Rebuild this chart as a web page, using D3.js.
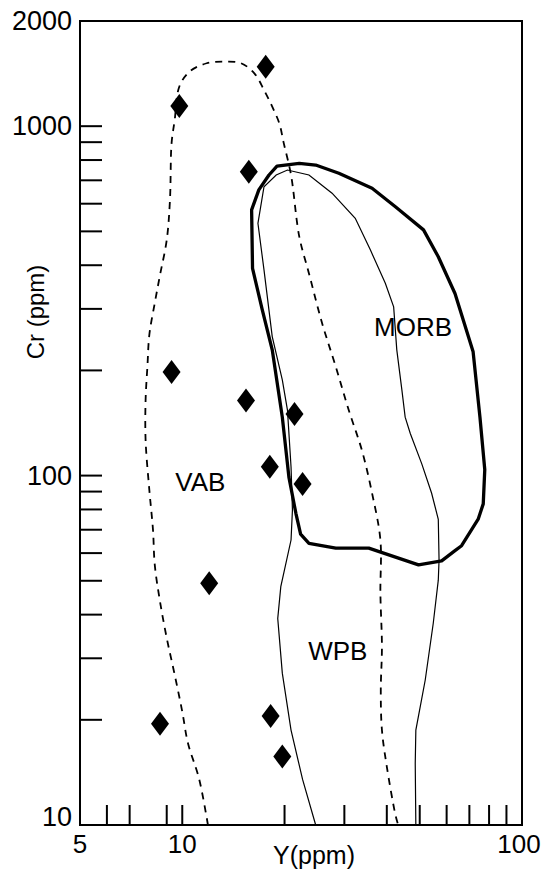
<!DOCTYPE html>
<html>
<head>
<meta charset="utf-8">
<script src="https://cdn.jsdelivr.net/npm/d3@7"></script>
<style>
  body { margin: 0; background: #fff; }
  svg text { font-family: "Liberation Sans", Arial, sans-serif; fill: #000; }
</style>
</head>
<body>
<div id="chart"></div>
<script>
// samples: Y (ppm), Cr (ppm)
var samplesY  = [17.6, 9.8, 15.7, 9.3, 15.4, 21.4, 18.1, 22.6, 12.0, 8.6, 18.2, 19.7];
var samplesCr = [1480, 1142, 741, 198, 164, 150, 106, 94.6, 49.2, 19.5, 20.5, 15.7];

// field boundaries [Y, Cr]
var morbField = [[19.0,769],[22.1,783],[24.7,774],[28.9,733],[36.2,664],[42.4,588],[51.3,505],[56.7,423],
  [63.5,332],[71.8,226],[75.2,147],[77.7,104],[76.9,83],[74.3,75],[66.4,63],[63.5,61],[58.0,57],[49.6,55.5],
  [35.4,62],[28.3,62],[23.6,64],[22.3,68],[21.6,78],[20.6,99],[19.7,147],[18.4,229],[17.2,298],[16.1,392],
  [16.0,576],[16.8,657],[18.0,725]];

var wpbField = [[24.7,10],[22.6,13.5],[20.9,18.7],[19.7,27.2],[19.1,39.0],[19.5,48.1],[20.9,65.4],[21.1,79.7],
  [20.9,106],[20.4,154],[19.7,188],[18.4,250],[17.4,388],[16.7,527],[17.4,671],[18.9,725],[20.4,749],
  [23.6,725],[27.6,643],[32.3,545],[35.8,442],[39.6,355],[41.9,304],[42.8,229],[44.3,176],[45.3,147],
  [46.9,132],[50.7,108],[54.2,89],[56.7,75],[57.0,57.3],[56.7,50.2],[54.8,37.8],[51.9,26.0],[48.7,18.7],
  [48.5,15.0],[48.7,10]];

var vabField = [[11.9,10],[11.2,13.6],[10.4,17.1],[10.0,21.1],[9.5,26.9],[9.0,34.3],[8.6,43.6],[8.3,55.5],
  [8.2,69.9],[8.0,90.9],[7.8,126],[7.8,165],[7.9,207],[8.0,253],[8.3,312],[8.6,375],[9.0,472],[9.2,615],
  [9.3,893],[9.5,1042],[9.8,1297],[10.5,1432],[11.8,1514],[13.3,1530],[14.9,1514],[16.3,1417],[17.4,1269],
  [18.4,1137],[19.3,1019],[19.9,893],[20.9,725],[22.1,483],[23.6,379],[25.8,273],[28.3,205],[30.9,154],
  [33.8,118],[36.2,89],[38.3,65.4],[38.3,46.0],[38.7,32.4],[38.4,24.3],[38.7,18.7],[40.0,14.7],[42.4,10.7],
  [43.2,10]];

var fieldNames = ["MORB", "VAB", "WPB"];
var fieldLabelAt = [[47.8, 266], [11.3, 96], [28.7, 31.5]];

var xTicks = [6, 7, 9, 10, 20, 30, 40, 50, 60, 70, 80, 90];
var xTickLabels = [5, 10, 100];
var yTicks = [20, 30, 40, 50, 60, 70, 80, 90, 100, 200, 300, 400, 500, 600, 700, 800, 900, 1000];
var yTickLabels = [10, 100, 1000, 2000];

var W = 543, H = 871;
var svg = d3.select("#chart").append("svg").attr("width", W).attr("height", H);

var x = d3.scaleLog().domain([5, 100]).range([80, 522]);
var y = d3.scaleLog().domain([10, 2000]).range([825, 21]);

var line = d3.line().x(function(d){ return x(d[0]); }).y(function(d){ return y(d[1]); });
var smooth = d3.line().x(function(d){ return x(d[0]); }).y(function(d){ return y(d[1]); })
  .curve(d3.curveCatmullRom.alpha(0.5));

// fields
svg.append("path").attr("d", smooth(vabField))
  .attr("fill", "none").attr("stroke", "#000").attr("stroke-width", 1.8)
  .attr("stroke-dasharray", "7,6");

svg.append("path").attr("d", line(wpbField))
  .attr("fill", "none").attr("stroke", "#000").attr("stroke-width", 1.2);

svg.append("path").attr("d", line(morbField) + "Z")
  .attr("fill", "none").attr("stroke", "#000").attr("stroke-width", 3.3)
  .attr("stroke-linejoin", "round");

// field labels
svg.selectAll("text.field").data(fieldNames).enter().append("text")
  .attr("class", "field")
  .attr("x", function(d, i){ return x(fieldLabelAt[i][0]); })
  .attr("y", function(d, i){ return y(fieldLabelAt[i][1]); })
  .attr("text-anchor", "middle").attr("dominant-baseline", "central")
  .style("font-size", "26px")
  .text(function(d){ return d; });

// samples
var diamond = "M0,-12L9,0L0,12L-9,0Z";
svg.selectAll("path.pt").data(samplesY).enter().append("path")
  .attr("class", "pt")
  .attr("d", diamond)
  .attr("transform", function(d, i){ return "translate(" + x(d) + "," + y(samplesCr[i]) + ")"; })
  .attr("fill", "#000");

// frame
var x0 = x.range()[0], x1 = x.range()[1], y0 = y.range()[0], y1 = y.range()[1];
svg.append("rect").attr("x", x0).attr("y", y1).attr("width", x1 - x0).attr("height", y0 - y1)
  .attr("fill", "none").attr("stroke", "#000").attr("stroke-width", 2);

// inward ticks
svg.selectAll("line.xt").data(xTicks).enter().append("line")
  .attr("x1", function(d){ return x(d); }).attr("x2", function(d){ return x(d); })
  .attr("y1", y0).attr("y2", y0 - 20)
  .attr("stroke", "#000").attr("stroke-width", 2);

svg.selectAll("line.yt").data(yTicks).enter().append("line")
  .attr("y1", function(d){ return y(d); }).attr("y2", function(d){ return y(d); })
  .attr("x1", x0).attr("x2", x0 + 22)
  .attr("stroke", "#000").attr("stroke-width", 2);

// tick labels (last one kept inside the page)
svg.selectAll("text.xl").data(xTickLabels).enter().append("text")
  .attr("x", function(d){ return Math.min(x(d), W - 24); }).attr("y", y0 + 19)
  .attr("text-anchor", "middle").attr("dominant-baseline", "central")
  .style("font-size", "26px")
  .text(function(d){ return d; });

svg.selectAll("text.yl").data(yTickLabels).enter().append("text")
  .attr("x", x0 - 8)
  .attr("y", function(d){ return Math.min(y(d), y0 - 8); })
  .attr("text-anchor", "end").attr("dominant-baseline", "central")
  .style("font-size", "27px")
  .text(function(d){ return d; });

// axis titles
svg.append("text")
  .attr("x", 314).attr("y", H - 7)
  .attr("text-anchor", "middle")
  .style("font-size", "25px")
  .text("Y(ppm)");

svg.append("text")
  .attr("transform", "translate(44,312) rotate(-90)")
  .attr("text-anchor", "middle")
  .style("font-size", "24px")
  .text("Cr (ppm)");
</script>
</body>
</html>
